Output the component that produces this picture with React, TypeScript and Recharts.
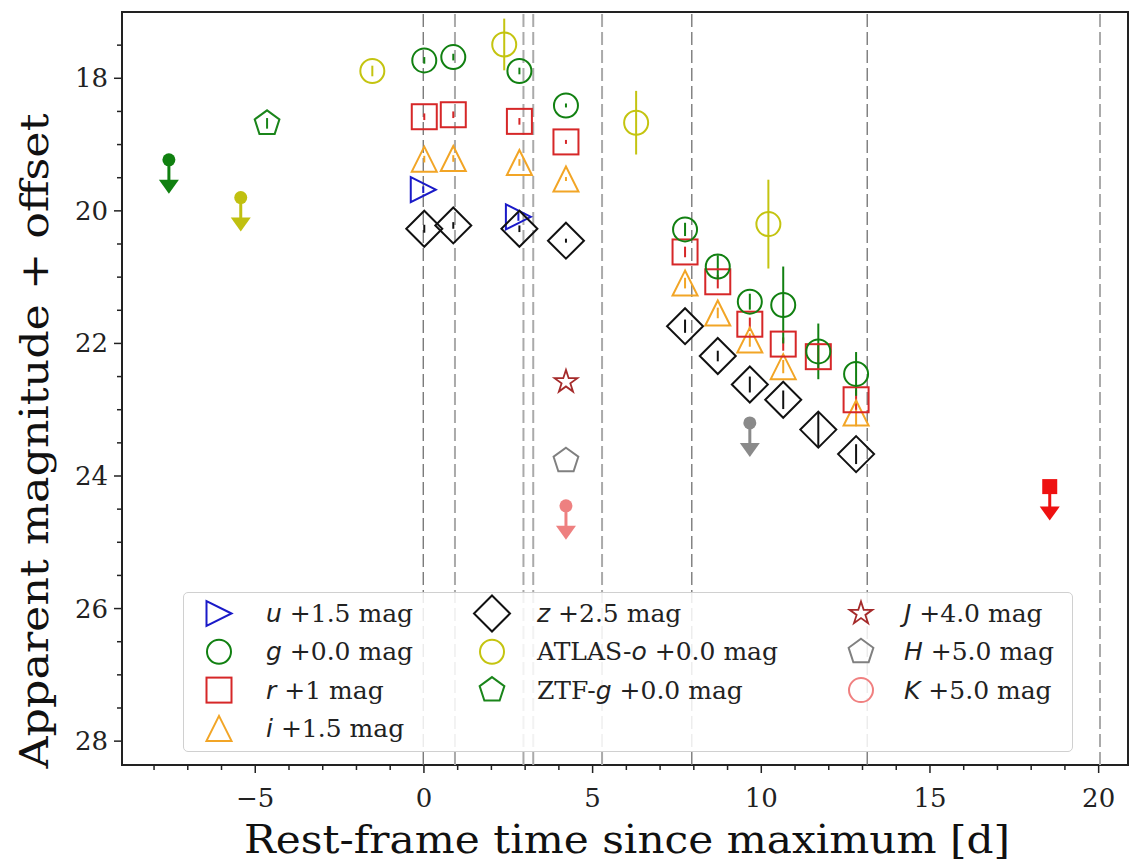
import React from 'react';
import {
  ScatterChart, Scatter, XAxis, YAxis, ErrorBar, ReferenceLine, ReferenceArea, Legend,
} from 'recharts';

// rest-frame days since maximum / magnitude (offset applied) / 1-sigma error
const uT = [-0.02, 2.80];
const uMag = [19.68, 20.09];
const uErr = [0.05, 0.06];

const gT = [0.01, 0.87, 2.83, 4.21, 7.74, 8.71, 9.66, 10.65, 11.69, 12.81];
const gMag = [17.73, 17.68, 17.89, 18.41, 20.28, 20.84, 21.37, 21.42, 22.12, 22.46];
const gErr = [0.05, 0.05, 0.05, 0.03, 0.1, 0.17, 0.12, 0.58, 0.42, 0.33];

const rT = [0.01, 0.87, 2.83, 4.21, 7.74, 8.71, 9.66, 10.65, 11.69, 12.81];
const rMag = [18.58, 18.55, 18.65, 18.96, 20.62, 21.07, 21.71, 22.01, 22.20, 22.85];
const rErr = [0.05, 0.05, 0.05, 0.03, 0.08, 0.1, 0.1, 0.1, 0.2, 0.15];

const iT = [0.01, 0.87, 2.83, 4.21, 7.74, 8.71, 9.66, 10.65, 12.81];
const iMag = [19.22, 19.21, 19.27, 19.52, 21.09, 21.54, 21.95, 22.35, 23.05];
const iErr = [0.05, 0.05, 0.05, 0.03, 0.08, 0.08, 0.1, 0.1, 0.2];

const zT = [0.01, 0.87, 2.83, 4.21, 7.74, 8.71, 9.66, 10.65, 11.69, 12.81];
const zMag = [20.27, 20.22, 20.27, 20.45, 21.74, 22.19, 22.62, 22.85, 23.30, 23.67];
const zErr = [0.06, 0.05, 0.05, 0.03, 0.1, 0.08, 0.12, 0.14, 0.25, 0.15];

const atlasT = [-1.53, 2.38, 6.29, 10.21];
const atlasMag = [17.89, 17.49, 18.67, 20.20];
const atlasErr = [0.08, 0.39, 0.48, 0.67];

const ztfT = [-4.65];
const ztfMag = [18.68];
const ztfErr = [0.08];

const jT = [4.21];
const jMag = [22.58];
const hT = [4.21];
const hMag = [23.77];

// 3-sigma upper limits
const gLimT = [-7.56];
const gLimMag = [19.23];
const atlasLimT = [-5.43];
const atlasLimMag = [19.80];
const kLimT = [4.21];
const kLimMag = [24.45];
const hLimT = [9.66];
const hLimMag = [23.20];
const rLimT = [18.55];
const rLimMag = [24.16];

// spectroscopic epochs
const specDark = [-0.02, 7.94, 13.14];
const specLight = [0.92, 2.95, 3.24, 5.28, 20.04];

const xTicks = [-8, -7, -6, -5, -4, -3, -2, -1, 0, 1, 2, 3, 4, 5, 6, 7, 8, 9, 10, 11, 12, 13, 14, 15, 16, 17, 18, 19, 20];
const yTicks = [17.5, 18, 18.5, 19, 19.5, 20, 20.5, 21, 21.5, 22, 22.5, 23, 23.5, 24, 24.5, 25, 25.5, 26, 26.5, 27, 27.5, 28];

const X_DOMAIN = [-8.95, 20.87];
const Y_DOMAIN = [17.0, 28.36];

const SERIF = '"DejaVu Serif", serif';
const SANS = '"DejaVu Sans", sans-serif';
const AXIS = '#222';

const pts = (t: number[], m: number[], e?: number[]) =>
  t.map((v, i) => ({ t: v, m: m[i], e: e ? e[i] : 0 }));

type Kind = 'circle' | 'square' | 'triUp' | 'triRight' | 'diamond' | 'pentagon' | 'star';

const Marker = ({ kind, color, cx, cy }: { kind: Kind; color: string; cx: number; cy: number }) => {
  const common = { fill: 'none', stroke: color, strokeWidth: 2 };
  if (kind === 'circle') return <circle cx={cx} cy={cy} r={12} {...common} />;
  if (kind === 'square') return <rect x={cx - 12.5} y={cy - 12.5} width={25} height={25} {...common} />;
  if (kind === 'triUp') {
    const h = 12.5;
    return <polygon points={`${cx},${cy - h} ${cx - h},${cy + h} ${cx + h},${cy + h}`} {...common} />;
  }
  if (kind === 'triRight') {
    const h = 12.5;
    return <polygon points={`${cx + h},${cy} ${cx - h},${cy - h} ${cx - h},${cy + h}`} {...common} />;
  }
  if (kind === 'diamond') {
    const h = 18;
    return <polygon points={`${cx},${cy - h} ${cx + h},${cy} ${cx},${cy + h} ${cx - h},${cy}`} {...common} />;
  }
  if (kind === 'pentagon') {
    const r = 13;
    const p = [0, 1, 2, 3, 4].map((k) => {
      const a = (-90 + 72 * k) * Math.PI / 180;
      return `${cx + r * Math.cos(a)},${cy + r * Math.sin(a)}`;
    });
    return <polygon points={p.join(' ')} {...common} />;
  }
  // star
  const R = 12, r = 12 * 0.382;
  const p = [];
  for (let k = 0; k < 10; k++) {
    const a = (-90 + 36 * k) * Math.PI / 180;
    const rad = k % 2 === 0 ? R : r;
    p.push(`${cx + rad * Math.cos(a)},${cy + rad * Math.sin(a)}`);
  }
  return <polygon points={p.join(' ')} {...common} strokeWidth={1.8} />;
};

const UpperLimit = ({ cx, cy, color, square }: any) => (
  <g>
    {square
      ? <rect x={cx - 7.5} y={cy - 7.5} width={15} height={15} fill={color} />
      : <circle cx={cx} cy={cy} r={6.5} fill={color} />}
    <line x1={cx} x2={cx} y1={cy} y2={cy + 22} stroke={color} strokeWidth={3} />
    <polygon points={`${cx - 10},${cy + 20} ${cx + 10},${cy + 20} ${cx},${cy + 34}`} fill={color} />
  </g>
);

const series = [
  { name: 'u', data: pts(uT, uMag, uErr), kind: 'triRight' as Kind, color: '#1a1ac8' },
  { name: 'ATLAS-o', data: pts(atlasT, atlasMag, atlasErr), kind: 'circle' as Kind, color: '#c4c410' },
  { name: 'ZTF-g', data: pts(ztfT, ztfMag, ztfErr), kind: 'pentagon' as Kind, color: '#1a851a' },
  { name: 'z', data: pts(zT, zMag, zErr), kind: 'diamond' as Kind, color: '#111111' },
  { name: 'i', data: pts(iT, iMag, iErr), kind: 'triUp' as Kind, color: '#f2a526' },
  { name: 'r', data: pts(rT, rMag, rErr), kind: 'square' as Kind, color: '#d62728' },
  { name: 'g', data: pts(gT, gMag, gErr), kind: 'circle' as Kind, color: '#118011' },
  { name: 'J', data: pts(jT, jMag), kind: 'star' as Kind, color: '#a52a2a' },
  { name: 'H', data: pts(hT, hMag), kind: 'pentagon' as Kind, color: '#808080' },
];

const limits = [
  { name: 'g lim', data: pts(gLimT, gLimMag), color: '#108010', square: false },
  { name: 'o lim', data: pts(atlasLimT, atlasLimMag), color: '#c0c010', square: false },
  { name: 'K lim', data: pts(kLimT, kLimMag), color: '#ee8080', square: false },
  { name: 'H lim', data: pts(hLimT, hLimMag), color: '#8a8a8a', square: false },
  { name: 'r lim', data: pts(rLimT, rLimMag), color: '#ee1111', square: true },
];

const it = (s: string) => <tspan fontFamily={SANS} fontStyle="italic">{s}</tspan>;

const legendCols = [
  [
    { kind: 'triRight' as Kind, color: '#1a1ac8', label: <>{it('u')} +1.5 mag</> },
    { kind: 'circle' as Kind, color: '#118011', label: <>{it('g')} +0.0 mag</> },
    { kind: 'square' as Kind, color: '#d62728', label: <>{it('r')} +1 mag</> },
    { kind: 'triUp' as Kind, color: '#f2a526', label: <>{it('i')} +1.5 mag</> },
  ],
  [
    { kind: 'diamond' as Kind, color: '#111111', label: <>{it('z')} +2.5 mag</> },
    { kind: 'circle' as Kind, color: '#c4c410', label: <>ATLAS-{it('o')} +0.0 mag</> },
    { kind: 'pentagon' as Kind, color: '#1a851a', label: <>ZTF-{it('g')} +0.0 mag</> },
  ],
  [
    { kind: 'star' as Kind, color: '#a52a2a', label: <>{it('J')} +4.0 mag</> },
    { kind: 'pentagon' as Kind, color: '#808080', label: <>{it('H')} +5.0 mag</> },
    { kind: 'circle' as Kind, color: '#f08080', label: <>{it('K')} +5.0 mag</> },
  ],
];
const colMarkerX = [35, 308, 677];
const colTextX = [82, 353, 720];

const LegendBox = () => (
  <div
    style={{
      width: 890, height: 160, boxSizing: 'border-box', border: '1.5px solid #d0d0d0',
      borderRadius: 5, background: 'rgba(255,255,255,0.85)',
    }}
  >
    <svg width={888} height={158} style={{ display: 'block' }}>
      {legendCols.map((col, c) =>
        col.map((e, r) => {
          const y = 20.5 + 38.3 * r;
          return (
            <g key={`${c}-${r}`}>
              <Marker kind={e.kind} color={e.color} cx={colMarkerX[c]} cy={y} />
              <text x={colTextX[c]} y={y + 8.5} fontFamily={SERIF} fontSize={25} fill="#222">{e.label}</text>
            </g>
          );
        })
      )}
    </svg>
  </div>
);

const fmt = (v: number) => (v < 0 ? `\u2212${Math.abs(v)}` : `${v}`);

const XTick = (props: any) => {
  const { x, y, payload } = props;
  const major = payload.value % 5 === 0;
  return (
    <g>
      <line x1={x} x2={x} y1={y} y2={y + (major ? 8 : 5)} stroke={AXIS} strokeWidth={1.5} />
      {major && (
        <text x={x} y={y + 42} textAnchor="middle" fontFamily={SERIF} fontSize={26} fill="#222">
          {fmt(payload.value)}
        </text>
      )}
    </g>
  );
};

const YTick = (props: any) => {
  const { x, y, payload } = props;
  const major = payload.value % 2 === 0;
  return (
    <g>
      <line x1={x} x2={x - (major ? 8 : 5)} y1={y} y2={y} stroke={AXIS} strokeWidth={1.5} />
      {major && (
        <text x={x - 14} y={y + 9} textAnchor="end" fontFamily={SERIF} fontSize={26} fill="#222">
          {payload.value}
        </text>
      )}
    </g>
  );
};

const XTitle = () => (
  <text
    x={627} y={853} textAnchor="middle" fontFamily={SERIF} fontSize={39} fill="#111"
    textLength={766} lengthAdjust="spacingAndGlyphs"
  >
    Rest-frame time since maximum [d]
  </text>
);

const YTitle = () => (
  <text
    x={0} y={0} transform="translate(48,441) rotate(-90)" textAnchor="middle"
    fontFamily={SERIF} fontSize={39} fill="#111" textLength={655} lengthAdjust="spacingAndGlyphs"
  >
    Apparent magnitude + offset
  </text>
);

export default function App() {
  return (
    <div style={{ position: 'absolute', left: 0, top: 0, width: 1130, height: 862, background: '#fff' }}>
      <ScatterChart width={1130} height={862} margin={{ top: 12, right: 2, bottom: 0, left: 0 }}>
        <XAxis
          type="number" dataKey="t" domain={X_DOMAIN} allowDataOverflow ticks={xTicks} interval={0}
          tick={<XTick />} tickLine={false} axisLine={false} tickSize={0} tickMargin={0} height={97}
          label={<XTitle />}
        />
        <YAxis
          type="number" dataKey="m" domain={Y_DOMAIN} allowDataOverflow reversed ticks={yTicks} interval={0}
          tick={<YTick />} tickLine={false} axisLine={false} tickSize={0} tickMargin={0} width={122}
          label={<YTitle />}
        />
        {specLight.map((v) => (
          <ReferenceLine key={`l${v}`} x={v} stroke="#aaaaaa" strokeWidth={2} strokeDasharray="13 5" />
        ))}
        {specDark.map((v) => (
          <ReferenceLine key={`d${v}`} x={v} stroke="#707070" strokeWidth={1.3} strokeDasharray="13 5" />
        ))}
        <ReferenceArea
          x1={X_DOMAIN[0]} x2={X_DOMAIN[1]} y1={Y_DOMAIN[0]} y2={Y_DOMAIN[1]}
          fill="none" stroke={AXIS} strokeWidth={2} fillOpacity={0}
        />
        {limits.map((s) => (
          <Scatter
            key={s.name} name={s.name} data={s.data} isAnimationActive={false}
            shape={(p: any) => <UpperLimit cx={p.cx} cy={p.cy} color={s.color} square={s.square} />}
          />
        ))}
        {series.map((s) => (
          <Scatter
            key={s.name} name={s.name} data={s.data} isAnimationActive={false}
            shape={(p: any) => <Marker kind={s.kind} color={s.color} cx={p.cx} cy={p.cy} />}
          >
            <ErrorBar dataKey="e" direction="y" width={0} stroke={s.color} strokeWidth={2} />
          </Scatter>
        ))}
        <Legend
          layout="horizontal" verticalAlign="middle" align="center"
          wrapperStyle={{ left: 183, top: 592, width: 890, height: 160 }}
          content={() => <LegendBox />}
        />
      </ScatterChart>
    </div>
  );
}
